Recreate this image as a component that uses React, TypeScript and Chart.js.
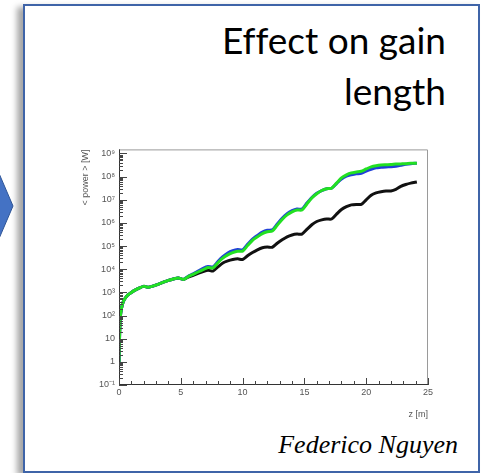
import React, { useEffect, useRef } from "react";
import { Chart, registerables } from "chart.js";

Chart.register(...registerables);

const zValues = [
  0, 0.05, 0.1, 0.2, 0.35, 0.5, 0.7, 1.0, 1.3, 1.6,
  2.0, 2.4, 2.8, 3.2, 3.6, 4.0, 4.4, 4.8, 5.2, 5.6,
  6.0, 6.4, 6.8, 7.2, 7.6, 8.0, 8.4, 8.8, 9.2, 9.6,
  10.0, 10.4, 10.8, 11.2, 11.6, 12.0, 12.4, 12.8, 13.2, 13.6,
  14.0, 14.4, 14.8, 15.2, 15.6, 16.0, 16.4, 16.8, 17.2, 17.6,
  18.0, 18.4, 18.8, 19.2, 19.6, 20.0, 20.4, 20.8, 21.2, 21.6,
  22.0, 22.4, 22.8, 23.2, 23.6, 24.1,
];

const greenPower = [
  1, 15.8, 79, 200, 400, 560, 760, 1000, 1260, 1510,
  1820, 1660, 1910, 2290, 2750, 3310, 3800, 4170, 3630, 4790,
  6030, 7590, 9550, 1.2e4, 1.15e4, 1.91e4, 3.02e4, 4.17e4, 5.25e4, 6.03e4,
  6.03e4, 1.05e5, 1.78e5, 2.51e5, 3.47e5, 4.17e5, 4.47e5, 7.94e5, 1.41e6, 2.24e6,
  3.02e6, 3.63e6, 3.63e6, 6.61e6, 1.2e7, 1.82e7, 2.51e7, 3.02e7, 3.16e7, 5.25e7,
  8.91e7, 1.2e8, 1.45e8, 1.58e8, 1.7e8, 2.14e8, 2.63e8, 2.95e8, 3.16e8, 3.24e8,
  3.31e8, 3.47e8, 3.55e8, 3.63e8, 3.8e8, 3.8e8,
];

const bluePower = [
  1, 15.8, 79, 200, 400, 560, 760, 1000, 1260, 1510,
  1820, 1660, 1910, 2290, 2750, 3310, 3800, 4170, 3630, 5010,
  6310, 8320, 1.1e4, 1.32e4, 1.26e4, 2.14e4, 3.47e4, 5.01e4, 6.31e4, 7.08e4,
  6.92e4, 1.2e5, 2.0e5, 2.88e5, 3.98e5, 4.79e5, 5.01e5, 8.91e5, 1.58e6, 2.51e6,
  3.39e6, 3.98e6, 3.98e6, 7.24e6, 1.26e7, 1.91e7, 2.51e7, 3.02e7, 3.16e7, 5.01e7,
  7.94e7, 1.05e8, 1.2e8, 1.32e8, 1.38e8, 1.74e8, 2.09e8, 2.4e8, 2.51e8, 2.63e8,
  2.69e8, 2.82e8, 3.09e8, 3.39e8, 3.63e8, 3.8e8,
];

const blackPower = [
  1, 15.8, 79, 200, 400, 560, 760, 1000, 1260, 1510,
  1820, 1660, 1910, 2290, 2750, 3310, 3800, 4170, 3630, 4570,
  5500, 6610, 7940, 9120, 8320, 1.26e4, 1.86e4, 2.29e4, 2.63e4, 2.82e4,
  2.63e4, 3.8e4, 5.25e4, 6.92e4, 8.51e4, 9.12e4, 8.91e4, 1.32e5, 1.86e5, 2.51e5,
  3.02e5, 3.31e5, 3.31e5, 5.25e5, 8.32e5, 1.15e6, 1.35e6, 1.48e6, 1.48e6, 2.4e6,
  3.8e6, 5.01e6, 6.03e6, 6.31e6, 6.31e6, 1.0e7, 1.58e7, 2.0e7, 2.24e7, 2.4e7,
  2.4e7, 2.82e7, 3.8e7, 4.57e7, 5.25e7, 5.89e7,
];

const xTickValues = [0, 5, 10, 15, 20, 25];
const xTickLabels = ["0", "5", "10", "15", "20", "25"];
const yTickValues = [1e-1, 1, 10, 1e2, 1e3, 1e4, 1e5, 1e6, 1e7, 1e8, 1e9];
const yTickLabels = ["10⁻¹", "1", "10", "10²", "10³", "10⁴", "10⁵", "10⁶", "10⁷", "10⁸", "10⁹"];

const TICK_FONT = { family: "'Liberation Sans Narrow', 'Liberation Sans', Arial, sans-serif", size: 9 };

const frameAndTicks = {
  id: "frameAndTicks",
  afterDatasetsDraw(chart: any) {
    const { ctx, chartArea: a, scales } = chart;
    const xs = scales.x;
    const ys = scales.y;
    ctx.save();
    ctx.strokeStyle = "#9a9a9a";
    ctx.lineWidth = 1;
    ctx.beginPath();
    ctx.moveTo(a.left, a.top + 0.5);
    ctx.lineTo(a.right - 0.5, a.top + 0.5);
    ctx.lineTo(a.right - 0.5, a.bottom);
    ctx.stroke();
    ctx.strokeStyle = "#333";
    ctx.beginPath();
    ctx.moveTo(a.left + 0.5, a.top);
    ctx.lineTo(a.left + 0.5, a.bottom - 0.5);
    ctx.lineTo(a.right, a.bottom - 0.5);
    ctx.stroke();
    ctx.strokeStyle = "#444";
    ctx.beginPath();
    for (let v = 0; v <= 25; v += 1) {
      const px = Math.round(xs.getPixelForValue(v)) + 0.5;
      const len = v % 5 === 0 ? 7 : 4;
      ctx.moveTo(px, a.bottom);
      ctx.lineTo(px, a.bottom - len);
    }
    ctx.stroke();
    ctx.beginPath();
    for (let d = -1; d <= 9; d++) {
      for (let m = 1; m <= 9; m++) {
        const v = m * Math.pow(10, d);
        if (v > ys.max) continue;
        const py = Math.round(ys.getPixelForValue(v)) + 0.5;
        const len = m === 1 ? 8 : 4;
        ctx.moveTo(a.left, py);
        ctx.lineTo(a.left + len, py);
      }
    }
    ctx.stroke();
    ctx.restore();
  },
};

function PowerChart() {
  const ref = useRef<HTMLCanvasElement>(null);
  useEffect(() => {
    if (!ref.current) return;
    const mk = (data: number[], color: string) => ({
      data: zValues.map((z, i) => ({ x: z, y: data[i] })),
      borderColor: color,
      backgroundColor: color,
      borderWidth: 3,
      pointRadius: 0,
      tension: 0.25,
      fill: false,
    });
    const chart = new Chart(ref.current, {
      type: "line",
      data: {
        datasets: [
          mk(greenPower, "#22e022"),
          mk(bluePower, "#2040d8"),
          mk(blackPower, "#111111"),
        ],
      },
      options: {
        animation: false,
        responsive: false,
        maintainAspectRatio: false,
        layout: { padding: { top: 9, right: 12, left: 0, bottom: 0 } },
        plugins: { legend: { display: false }, tooltip: { enabled: false } },
        scales: {
          x: {
            type: "linear",
            min: 0,
            max: 25,
            grid: { display: false, drawTicks: false },
            border: { display: false },
            afterBuildTicks: (s: any) => {
              s.ticks = xTickValues.map((v) => ({ value: v }));
            },
            afterFit: (s: any) => {
              s.height = 35;
            },
            ticks: {
              autoSkip: false,
              maxRotation: 0,
              padding: 2,
              color: "#555",
              font: TICK_FONT,
              callback: (_v: any, i: number) => xTickLabels[i],
            },
            title: {
              display: true,
              text: "z [m]",
              align: "end",
              color: "#555",
              font: TICK_FONT,
              padding: { top: 0, bottom: 0 },
            },
          },
          y: {
            type: "logarithmic",
            min: 0.1,
            max: 1.5e9,
            grid: { display: false, drawTicks: false },
            border: { display: false },
            afterBuildTicks: (s: any) => {
              s.ticks = yTickValues.map((v) => ({ value: v }));
            },
            afterFit: (s: any) => {
              s.width = 39;
            },
            ticks: {
              autoSkip: false,
              padding: 4,
              color: "#555",
              font: TICK_FONT,
              callback: (_v: any, i: number) => yTickLabels[i],
            },
            title: {
              display: true,
              text: "< power > [W]",
              align: "end",
              color: "#555",
              font: TICK_FONT,
              padding: { top: 0, bottom: 2 },
            },
          },
        },
      },
      plugins: [frameAndTicks],
    });
    return () => chart.destroy();
  }, []);
  return (
    <canvas
      ref={ref}
      width={360}
      height={280}
      style={{ position: "absolute", left: 80, top: 140, width: 360, height: 280 }}
    />
  );
}

export default function App() {
  return (
    <div
      style={{
        position: "fixed",
        left: 0,
        top: 0,
        width: 486,
        height: 473,
        background: "#fff",
        overflow: "hidden",
      }}
    >
      <svg width={20} height={473} style={{ position: "absolute", left: 0, top: 0 }}>
        <polygon points="-2,171 13,206 -2,241" fill="#4472c4" stroke="#2f5597" strokeWidth={1} />
      </svg>
      <div
        style={{
          position: "absolute",
          left: 23,
          top: 4,
          width: 453,
          height: 465,
          border: "2px solid #3f64a8",
          background: "#fff",
          boxShadow: "-6px 3px 6px rgba(0,0,0,0.35)",
        }}
      />
      <div
        style={{
          position: "absolute",
          right: 40,
          top: 14,
          textAlign: "right",
          fontFamily: "Lato, 'Open Sans', sans-serif",
          fontSize: 37,
          lineHeight: "51px",
          color: "#000",
          whiteSpace: "nowrap",
          fontVariantLigatures: "none",
        }}
      >
        Effect on gain
        <br />
        length
      </div>
      <PowerChart />
      <div
        style={{
          position: "absolute",
          right: 28,
          top: 430,
          fontFamily: "'Liberation Serif', 'Times New Roman', serif",
          fontStyle: "italic",
          fontSize: 26,
          lineHeight: "30px",
          color: "#000",
          whiteSpace: "nowrap",
        }}
      >
        Federico Nguyen
      </div>
    </div>
  );
}
